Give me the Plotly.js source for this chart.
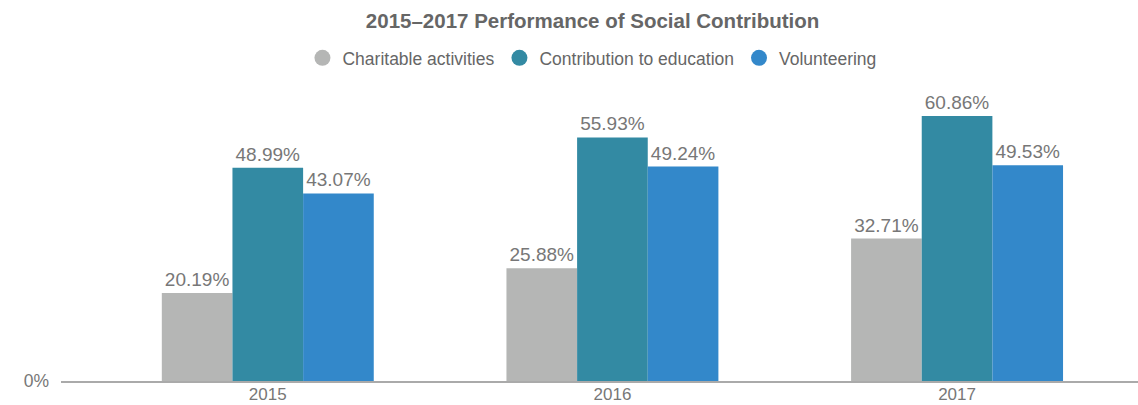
<!DOCTYPE html>
<html>
<head>
<meta charset="utf-8">
<script src="https://cdn.plot.ly/plotly-3.0.1.min.js"></script>
<style>html,body{margin:0;padding:0;background:#fff;}#chart{width:1138px;height:405px;}</style>
</head>
<body>
<div id="chart"></div>
<script>
const years = ['2015', '2016', '2017'];
const charitable = [20.19, 25.88, 32.71];
const education = [48.99, 55.93, 60.86];
const volunteering = [43.07, 49.24, 49.53];
const seriesNames = ['Charitable activities', 'Contribution to education', 'Volunteering'];
const seriesColors = ['#b5b6b5', '#338aa3', '#3388ca'];
const seriesValues = [charitable, education, volunteering];

const font = 'Liberation Sans, Arial, Helvetica, sans-serif';
const traces = [];
seriesValues.forEach((vals, i) => {
  traces.push({
    type: 'bar', x: years, y: vals, name: seriesNames[i],
    marker: {color: seriesColors[i]},
    text: vals.map(v => v.toFixed(2) + '%'),
    textposition: 'outside', cliponaxis: false,
    textfont: {family: font, size: 19, color: '#777'},
    showlegend: false, hoverinfo: 'x+y'
  });
});
seriesValues.forEach((vals, i) => {
  traces.push({
    type: 'scatter', mode: 'markers', x: [null], y: [null], name: seriesNames[i],
    marker: {color: seriesColors[i], size: 16, symbol: 'circle'},
    showlegend: true, hoverinfo: 'skip'
  });
});

const layout = {
  width: 1138, height: 405,
  margin: {l: 61, r: 0, t: 90, b: 24},
  paper_bgcolor: '#fff', plot_bgcolor: '#fff',
  font: {family: font, color: '#777'},
  title: {
    text: '2015–2017 Performance of Social Contribution',
    font: {family: font, size: 20.5, color: '#666', weight: 'bold'},
    xref: 'container', x: 0.5207, xanchor: 'center',
    yref: 'container', y: 0.948, yanchor: 'middle'
  },
  barmode: 'group', bargap: 0.385, bargroupgap: 0,
  xaxis: {
    type: 'category', range: [-0.6, 2.525],
    showline: true, linecolor: '#aaa', linewidth: 1.5,
    showgrid: false, zeroline: false, ticks: '',
    ticklabelstandoff: -3,
    tickfont: {family: font, size: 17, color: '#777'}
  },
  yaxis: {
    range: [0, 66.83], tickvals: [0], ticktext: ['0%'],
    showgrid: false, zeroline: false, showline: false, ticks: '',
    ticklabelstandoff: 11,
    tickfont: {family: font, size: 17.5, color: '#777'}
  },
  legend: {
    orientation: 'h', xref: 'paper', x: 0.493, xanchor: 'center',
    yref: 'paper', y: 1.11, yanchor: 'middle',
    font: {family: font, size: 17.5, color: '#666'},
    itemsizing: 'trace', bgcolor: 'rgba(0,0,0,0)'
  },
  showlegend: true
};

Plotly.newPlot('chart', traces, layout, {displayModeBar: false, staticPlot: true});
</script>
</body>
</html>
